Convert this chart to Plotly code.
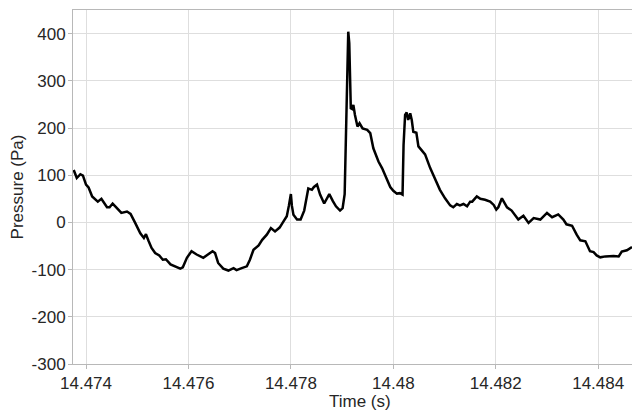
import plotly.graph_objects as go

time_s = [
    14.47376, 14.47382, 14.47389, 14.47394, 14.47400, 14.47405, 14.47412, 14.47418,
    14.47423, 14.47430, 14.47435, 14.47441, 14.47446, 14.47452, 14.47459, 14.47469,
    14.47480, 14.47487, 14.47496, 14.47506, 14.47513, 14.47517, 14.47522, 14.47528,
    14.47535, 14.47543, 14.47550, 14.47556, 14.47565, 14.47574, 14.47584, 14.47589,
    14.47597, 14.47606, 14.47616, 14.47629, 14.47639, 14.47647, 14.47652, 14.47658,
    14.47668, 14.47678, 14.47688, 14.47694, 14.47704, 14.47714, 14.47720, 14.47727,
    14.47737, 14.47744, 14.47753, 14.47761, 14.47769, 14.47778, 14.47785, 14.47792,
    14.47796, 14.47800, 14.47802, 14.47805, 14.47812, 14.47819, 14.47826, 14.47831,
    14.47834, 14.47841, 14.47845, 14.47851, 14.47857, 14.47865, 14.47875, 14.47882,
    14.47888, 14.47896, 14.47901, 14.47905, 14.47908, 14.47911, 14.47912, 14.47914,
    14.47917, 14.47920, 14.47922, 14.47925, 14.47930, 14.47934, 14.47940, 14.47949,
    14.47955, 14.47961, 14.47971, 14.47978, 14.47987, 14.47994, 14.48000, 14.48007,
    14.48013, 14.48018, 14.48020, 14.48023, 14.48026, 14.48029, 14.48033, 14.48036,
    14.48039, 14.48045, 14.48049, 14.48056, 14.48062, 14.48072, 14.48082, 14.48091,
    14.48101, 14.48111, 14.48117, 14.48124, 14.48130, 14.48137, 14.48144, 14.48150,
    14.48154, 14.48163, 14.48170, 14.48179, 14.48189, 14.48196, 14.48201, 14.48205,
    14.48212, 14.48222, 14.48231, 14.48244, 14.48254, 14.48264, 14.48274, 14.48287,
    14.48300, 14.48310, 14.48322, 14.48332, 14.48338, 14.48349, 14.48358, 14.48365,
    14.48375, 14.48384, 14.48391, 14.48397, 14.48404, 14.48414, 14.48430, 14.48440,
    14.48446, 14.48456, 14.48466,
]

pressure_pa = [
    111, 94, 102, 99, 80, 74, 55, 49,
    44, 50, 41, 32, 32, 40, 32, 20,
    23, 18, -1, -23, -33, -25, -39, -54,
    -65, -70, -79, -78, -89, -94, -98, -95,
    -75, -61, -68, -75, -68, -61, -65, -86,
    -98, -102, -97, -101, -97, -93, -79, -58,
    -49, -37, -26, -12, -19, -11, 1, 13,
    35, 60, 35, 16, 6, 6, 25, 50,
    72, 69, 75, 80, 59, 40, 60, 45,
    34, 25, 30, 60, 200, 380, 404, 380,
    242, 240, 249, 228, 203, 210, 199, 196,
    189, 157, 129, 115, 94, 75, 67, 61,
    62, 59, 164, 228, 233, 217, 231, 217,
    192, 190, 161, 152, 144, 115, 90, 69,
    51, 36, 32, 39, 36, 39, 34, 44,
    44, 55, 50, 48, 44, 37, 27, 32,
    51, 32, 25, 6, 14, -1, 9, 6,
    20, 11, 17, 6, -4, -7, -26, -38,
    -40, -61, -63, -70, -74, -72, -71, -72,
    -62, -59, -52,
]

x_ticks = [14.474, 14.476, 14.478, 14.48, 14.482, 14.484]
x_tick_labels = ["14.474", "14.476", "14.478", "14.48", "14.482", "14.484"]
y_ticks = [-300, -200, -100, 0, 100, 200, 300, 400]
y_tick_labels = ["-300", "-200", "-100", "0", "100", "200", "300", "400"]

FONT = "Liberation Sans, Arial, sans-serif"
TXT = "#262626"
GRID = "#dedede"
AXIS = "#b8b8b8"

fig = go.Figure(
    go.Scatter(
        x=time_s, y=pressure_pa, mode="lines",
        line=dict(color="black", width=2.5),
        showlegend=False,
    )
)

fig.update_layout(
    width=632, height=413,
    margin=dict(l=73, r=0, t=10, b=49),
    paper_bgcolor="white", plot_bgcolor="white",
    font=dict(family=FONT, size=17, color=TXT),
    xaxis=dict(
        range=[14.473746, 14.48466],
        tickvals=x_ticks, ticktext=x_tick_labels,
        showgrid=True, gridcolor=GRID, gridwidth=1,
        showline=True, linecolor=AXIS, linewidth=1, mirror=True,
        ticks="outside", ticklen=4, tickcolor=AXIS,
        zeroline=False,
        tickfont=dict(family=FONT, size=17, color=TXT),
    ),
    yaxis=dict(
        range=[-300, 450],
        tickvals=y_ticks, ticktext=y_tick_labels,
        showgrid=True, gridcolor=GRID, gridwidth=1,
        showline=True, linecolor=AXIS, linewidth=1,
        ticks="outside", ticklen=4, tickcolor=AXIS,
        ticklabelstandoff=-1,
        zeroline=False,
        tickfont=dict(family=FONT, size=17, color=TXT),
        title=dict(text="Pressure (Pa)", font=dict(family=FONT, size=17, color=TXT), standoff=3),
    ),
    annotations=[
        dict(
            text="Time (s)", xref="paper", yref="paper",
            x=(360 - 73) / (632 - 73), y=0, yshift=-49,
            xanchor="center", yanchor="bottom", showarrow=False,
            font=dict(family=FONT, size=17, color=TXT),
        )
    ],
)

fig.write_html(
    "out.html",
    config={"displayModeBar": False},
    post_script="document.body.style.margin='0';document.body.style.overflow='hidden';",
)
